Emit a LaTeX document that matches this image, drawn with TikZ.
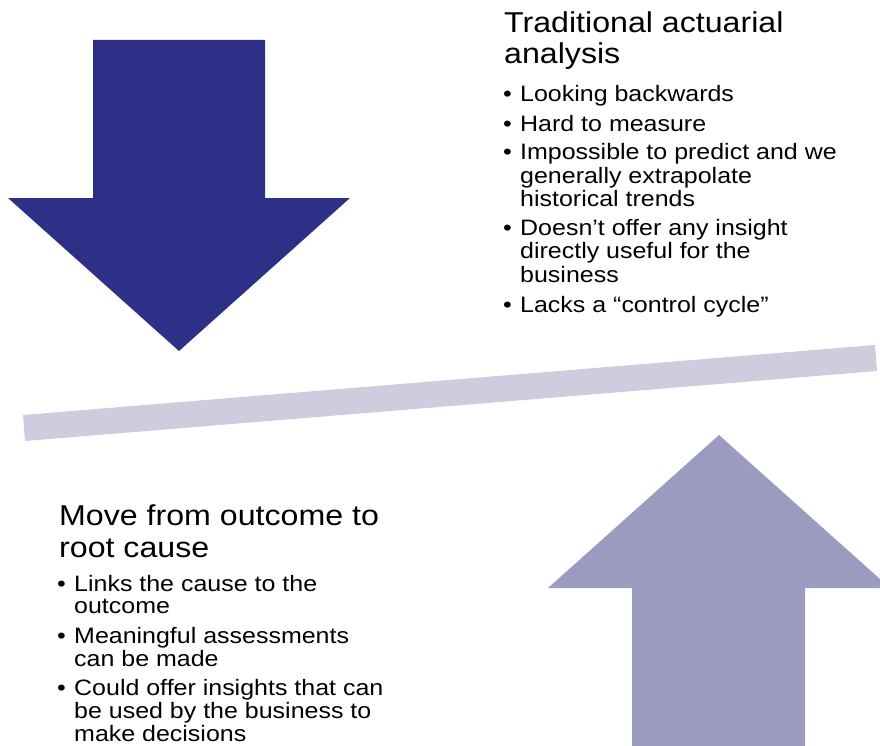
\documentclass[tikz,border=0pt]{standalone}
\usepackage{fontspec}
\setmainfont{Liberation Sans}[FakeStretch=1.12]
\definecolor{darkarrow}{HTML}{2E3087}
\definecolor{lightarrow}{HTML}{9B9BBF}
\definecolor{barcol}{HTML}{CDCDDE}
\begin{document}
\begin{tikzpicture}[x=1pt,y=-1pt,
  titletext/.style={anchor=base west,inner sep=0pt,font=\fontsize{28.7}{32}\selectfont},
  bullettext/.style={anchor=base west,inner sep=0pt,font=\fontsize{22.3}{24}\selectfont},
  bulletmark/.style={anchor=base west,inner sep=0pt,font=\fontsize{22.3}{24}\selectfont}]
\useasboundingbox (0,0) rectangle (880,746);
\clip (0,0) rectangle (880,746);
% down arrow
\fill[darkarrow] (93,40) -- (265,40) -- (265,198) -- (350,198) -- (179,351) -- (8,198) -- (93,198) -- cycle;
% up arrow
\fill[lightarrow] (719,435) -- (890,588) -- (805,588) -- (805,750) -- (632,750) -- (632,588) -- (548,588) -- cycle;
% tilted bar
\fill[barcol] (23,415) -- (875,345) -- (877,371) -- (25,441) -- cycle;
% top text
\node[titletext] (t1) at (504,33) {Traditional actuarial};
\node[titletext] (t2) at (504,64) {analysis};
\node[bulletmark] (tb1) at (503,102) {•};
\node[bullettext] (ta1) at (520,102) {Looking backwards};
\node[bulletmark] (tb2) at (503,132) {•};
\node[bullettext] (ta2) at (520,132) {Hard to measure};
\node[bulletmark] (tb3) at (503,160) {•};
\node[bullettext] (ta3) at (520,160) {Impossible to predict and we};
\node[bullettext] (ta3b) at (520,183) {generally extrapolate};
\node[bullettext] (ta3c) at (520,206) {historical trends};
\node[bulletmark] (tb4) at (503,235) {•};
\node[bullettext] (ta4) at (520,235) {Doesn’t offer any insight};
\node[bullettext] (ta4b) at (520,258) {directly useful for the};
\node[bullettext] (ta4c) at (520,282) {business};
\node[bulletmark] (tb5) at (503,312) {•};
\node[bullettext] (ta5) at (520,312) {Lacks a “control cycle”};
% bottom text
\node[titletext] (b1) at (59,525) {Move from outcome to};
\node[titletext] (b2) at (59,557) {root cause};
\node[bulletmark] (bb1) at (57,591) {•};
\node[bullettext] (ba1) at (74,591) {Links the cause to the};
\node[bullettext] (ba1b) at (74,613) {outcome};
\node[bulletmark] (bb2) at (57,643) {•};
\node[bullettext] (ba2) at (74,643) {Meaningful assessments};
\node[bullettext] (ba2b) at (74,666) {can be made};
\node[bulletmark] (bb3) at (57,695) {•};
\node[bullettext] (ba3) at (74,695) {Could offer insights that can};
\node[bullettext] (ba3b) at (74,718) {be used by the business to};
\node[bullettext] (ba3c) at (74,741) {make decisions};
\end{tikzpicture}
\end{document}
